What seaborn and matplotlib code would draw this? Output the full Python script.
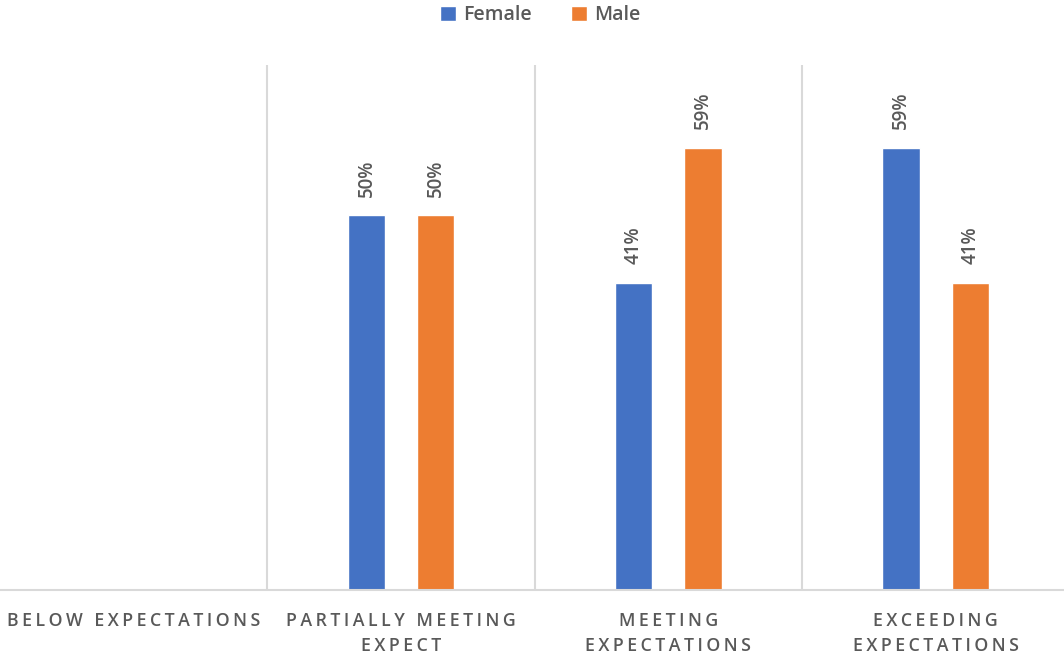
import numpy as np
import pandas as pd
import matplotlib
matplotlib.use("Agg")
import matplotlib.pyplot as plt
import seaborn as sns

# Share of each rating band by gender (Below Expectations has no entries)
categories = ["Below Expectations", "Partially Meeting Expect",
              "Meeting Expectations", "Exceeding Expectations"]
tick_labels = ["BELOW EXPECTATIONS", "PARTIALLY MEETING\nEXPECT",
               "MEETING\nEXPECTATIONS", "EXCEEDING\nEXPECTATIONS"]
female = [np.nan, 0.50, 0.41, 0.59]
male = [np.nan, 0.50, 0.59, 0.41]
series = ["Female", "Male"]
colors = ["#4472C4", "#ED7D31"]

df = pd.DataFrame({
    "category": categories * 2,
    "gender": [series[0]] * len(categories) + [series[1]] * len(categories),
    "share": female + male,
})

sns.set_theme(style="white")
plt.rcParams["font.family"] = ["Open Sans", "DejaVu Sans"]
plt.rcParams["font.weight"] = 600

fig = plt.figure(figsize=(10.64, 6.56), dpi=100)
ax = fig.add_axes([0.0, 0.1006, 1.005, 0.8003])

sns.barplot(data=df, x="category", y="share", hue="gender", order=categories,
            hue_order=series, palette=colors, width=0.517, gap=0.46,
            saturation=1, ax=ax, legend=True)

ax.set_ylim(0, 0.70)
ax.set_xlim(-0.5, 3.5)
ax.set_xlabel("")
ax.set_ylabel("")
ax.set_yticks([])

def spaced(text):
    # widen the tracking of the uppercase axis labels
    return "\n".join("\u2009".join(line) for line in text.split("\n"))

ax.set_xticks(range(len(categories)))
ax.set_xticklabels([spaced(t) for t in tick_labels], fontsize=12.8,
                   color="#595959", linespacing=1.45, fontweight=600)
ax.tick_params(axis="x", length=0, pad=16)

for s in ["top", "right", "left"]:
    ax.spines[s].set_visible(False)
ax.spines["bottom"].set_color("#D9D9D9")
ax.spines["bottom"].set_linewidth(1.5)

# category separators
for xb in [0.5, 1.5, 2.5]:
    ax.axvline(xb, color="#D9D9D9", lw=1.5, zorder=0)

# value labels above the bars
for container in ax.containers:
    labels = ["" if np.isnan(v) else f"{v:.0%}" for v in container.datavalues]
    ax.bar_label(container, labels=labels, rotation=90, padding=13,
                 fontsize=13.5, color="#595959", fontweight=600)

leg = ax.legend(loc="upper center", bbox_to_anchor=(0.505, 1.147), ncol=2,
                frameon=False, prop={"size": 14, "weight": 600},
                handlelength=0.85, handleheight=0.85, handletextpad=0.35,
                columnspacing=2.0)
for t in leg.get_texts():
    t.set_color("#595959")

fig.savefig("out.png", dpi=100)
